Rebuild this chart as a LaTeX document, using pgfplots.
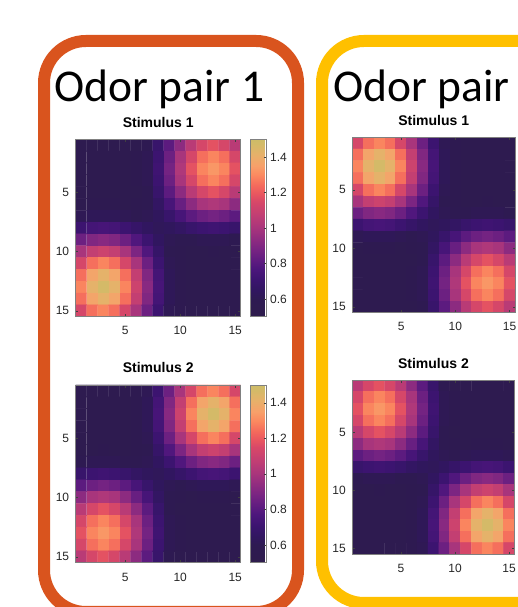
\documentclass[border=0pt]{standalone}
\usepackage{fontspec}
\setmainfont{Liberation Sans}
\newfontfamily\calibri{Carlito}
\usepackage{pgfplots}
\pgfplotsset{compat=1.18}
\usepackage{pgfplotstable}
\definecolor{boxorange}{RGB}{217,84,30}
\definecolor{boxyellow}{RGB}{255,192,0}
\pgfplotsset{
  /pgf/number format/assume math mode=true,
  colormap={mymagma}{
    rgb255(0pt)=(46,28,76);
    rgb255(10pt)=(46,26,82);
    rgb255(15pt)=(49,22,96);
    rgb255(21pt)=(60,20,112);
    rgb255(27pt)=(76,22,124);
    rgb255(32pt)=(96,28,128);
    rgb255(38pt)=(120,36,130);
    rgb255(44pt)=(144,44,128);
    rgb255(50pt)=(168,53,124);
    rgb255(57pt)=(192,62,116);
    rgb255(65pt)=(216,72,104);
    rgb255(69pt)=(232,85,96);
    rgb255(74pt)=(244,106,92);
    rgb255(80pt)=(251,138,96);
    rgb255(85pt)=(248,160,106);
    rgb255(91pt)=(232,176,106);
    rgb255(97pt)=(212,186,104);
    rgb255(100pt)=(205,188,104)
  },
}
% Odor pair 1, stimulus 1 (rows top to bottom, 15 values per row)
\pgfplotstableread[row sep=\\]{
v\\
0.56\\0.56\\0.56\\0.56\\0.56\\0.57\\0.60\\0.69\\0.81\\0.93\\1.05\\1.14\\1.18\\1.14\\1.05\\
0.56\\0.56\\0.56\\0.56\\0.56\\0.58\\0.61\\0.71\\0.85\\1.00\\1.14\\1.25\\1.29\\1.25\\1.14\\
0.56\\0.56\\0.56\\0.56\\0.56\\0.58\\0.61\\0.72\\0.87\\1.02\\1.18\\1.29\\1.33\\1.29\\1.18\\
0.56\\0.56\\0.56\\0.56\\0.56\\0.58\\0.61\\0.71\\0.85\\1.00\\1.14\\1.25\\1.29\\1.25\\1.14\\
0.56\\0.56\\0.56\\0.56\\0.56\\0.57\\0.60\\0.69\\0.81\\0.93\\1.05\\1.14\\1.18\\1.14\\1.05\\
0.57\\0.58\\0.58\\0.58\\0.57\\0.58\\0.60\\0.66\\0.75\\0.84\\0.93\\1.00\\1.02\\1.00\\0.93\\
0.61\\0.62\\0.62\\0.62\\0.61\\0.60\\0.61\\0.64\\0.69\\0.75\\0.81\\0.85\\0.87\\0.85\\0.81\\
0.71\\0.74\\0.75\\0.74\\0.71\\0.68\\0.65\\0.63\\0.64\\0.66\\0.69\\0.71\\0.72\\0.71\\0.69\\
0.85\\0.90\\0.92\\0.90\\0.85\\0.78\\0.71\\0.65\\0.61\\0.60\\0.60\\0.61\\0.61\\0.61\\0.60\\
1.00\\1.08\\1.11\\1.08\\1.00\\0.89\\0.78\\0.68\\0.60\\0.58\\0.57\\0.57\\0.58\\0.57\\0.57\\
1.14\\1.25\\1.29\\1.25\\1.14\\1.00\\0.85\\0.71\\0.61\\0.58\\0.56\\0.56\\0.56\\0.56\\0.56\\
1.25\\1.37\\1.42\\1.37\\1.25\\1.08\\0.90\\0.74\\0.62\\0.58\\0.56\\0.56\\0.56\\0.56\\0.56\\
1.29\\1.42\\1.47\\1.42\\1.29\\1.11\\0.92\\0.75\\0.62\\0.58\\0.56\\0.56\\0.56\\0.56\\0.56\\
1.25\\1.37\\1.42\\1.37\\1.25\\1.08\\0.90\\0.74\\0.62\\0.58\\0.56\\0.56\\0.56\\0.56\\0.56\\
1.14\\1.25\\1.29\\1.25\\1.14\\1.00\\0.85\\0.71\\0.61\\0.58\\0.56\\0.56\\0.56\\0.56\\0.56\\
}\tabA
% Odor pair 1, stimulus 2
\pgfplotstableread[row sep=\\]{
v\\
0.56\\0.56\\0.56\\0.56\\0.56\\0.58\\0.61\\0.71\\0.85\\1.00\\1.14\\1.25\\1.29\\1.25\\1.14\\
0.56\\0.56\\0.56\\0.56\\0.56\\0.58\\0.62\\0.74\\0.90\\1.08\\1.25\\1.37\\1.42\\1.37\\1.25\\
0.56\\0.56\\0.56\\0.56\\0.56\\0.58\\0.62\\0.75\\0.92\\1.11\\1.29\\1.42\\1.47\\1.42\\1.29\\
0.56\\0.56\\0.56\\0.56\\0.56\\0.58\\0.62\\0.74\\0.90\\1.08\\1.25\\1.37\\1.42\\1.37\\1.25\\
0.56\\0.56\\0.56\\0.56\\0.56\\0.58\\0.61\\0.71\\0.85\\1.00\\1.14\\1.25\\1.29\\1.25\\1.14\\
0.57\\0.57\\0.58\\0.57\\0.57\\0.58\\0.60\\0.68\\0.78\\0.89\\1.00\\1.08\\1.11\\1.08\\1.00\\
0.60\\0.61\\0.61\\0.61\\0.60\\0.60\\0.61\\0.65\\0.71\\0.78\\0.85\\0.90\\0.92\\0.90\\0.85\\
0.69\\0.71\\0.72\\0.71\\0.69\\0.66\\0.64\\0.63\\0.65\\0.68\\0.71\\0.74\\0.75\\0.74\\0.71\\
0.81\\0.85\\0.87\\0.85\\0.81\\0.75\\0.69\\0.64\\0.61\\0.60\\0.61\\0.62\\0.62\\0.62\\0.61\\
0.93\\1.00\\1.02\\1.00\\0.93\\0.84\\0.75\\0.66\\0.60\\0.58\\0.57\\0.58\\0.58\\0.58\\0.57\\
1.05\\1.14\\1.18\\1.14\\1.05\\0.93\\0.81\\0.69\\0.60\\0.57\\0.56\\0.56\\0.56\\0.56\\0.56\\
1.14\\1.25\\1.29\\1.25\\1.14\\1.00\\0.85\\0.71\\0.61\\0.58\\0.56\\0.56\\0.56\\0.56\\0.56\\
1.18\\1.29\\1.33\\1.29\\1.18\\1.02\\0.87\\0.72\\0.61\\0.58\\0.56\\0.56\\0.56\\0.56\\0.56\\
1.14\\1.25\\1.29\\1.25\\1.14\\1.00\\0.85\\0.71\\0.61\\0.58\\0.56\\0.56\\0.56\\0.56\\0.56\\
1.05\\1.14\\1.18\\1.14\\1.05\\0.93\\0.81\\0.69\\0.60\\0.57\\0.56\\0.56\\0.56\\0.56\\0.56\\
}\tabB
% Odor pair 2, stimulus 1
\pgfplotstableread[row sep=\\]{
v\\
1.14\\1.25\\1.29\\1.25\\1.14\\1.00\\0.85\\0.71\\0.61\\0.58\\0.56\\0.56\\0.56\\0.56\\0.56\\
1.25\\1.37\\1.42\\1.37\\1.25\\1.08\\0.90\\0.74\\0.62\\0.58\\0.56\\0.56\\0.56\\0.56\\0.56\\
1.29\\1.42\\1.47\\1.42\\1.29\\1.11\\0.92\\0.75\\0.62\\0.58\\0.56\\0.56\\0.56\\0.56\\0.56\\
1.25\\1.37\\1.42\\1.37\\1.25\\1.08\\0.90\\0.74\\0.62\\0.58\\0.56\\0.56\\0.56\\0.56\\0.56\\
1.14\\1.25\\1.29\\1.25\\1.14\\1.00\\0.85\\0.71\\0.61\\0.58\\0.56\\0.56\\0.56\\0.56\\0.56\\
1.00\\1.08\\1.11\\1.08\\1.00\\0.89\\0.78\\0.68\\0.60\\0.58\\0.57\\0.57\\0.58\\0.57\\0.57\\
0.85\\0.90\\0.92\\0.90\\0.85\\0.78\\0.71\\0.65\\0.61\\0.60\\0.60\\0.61\\0.61\\0.61\\0.60\\
0.71\\0.74\\0.75\\0.74\\0.71\\0.68\\0.65\\0.63\\0.64\\0.66\\0.69\\0.71\\0.72\\0.71\\0.69\\
0.61\\0.62\\0.62\\0.62\\0.61\\0.60\\0.61\\0.64\\0.69\\0.75\\0.81\\0.85\\0.87\\0.85\\0.81\\
0.57\\0.58\\0.58\\0.58\\0.57\\0.58\\0.60\\0.66\\0.75\\0.84\\0.93\\1.00\\1.02\\1.00\\0.93\\
0.56\\0.56\\0.56\\0.56\\0.56\\0.57\\0.60\\0.69\\0.81\\0.93\\1.05\\1.14\\1.18\\1.14\\1.05\\
0.56\\0.56\\0.56\\0.56\\0.56\\0.58\\0.61\\0.71\\0.85\\1.00\\1.14\\1.25\\1.29\\1.25\\1.14\\
0.56\\0.56\\0.56\\0.56\\0.56\\0.58\\0.61\\0.72\\0.87\\1.02\\1.18\\1.29\\1.33\\1.29\\1.18\\
0.56\\0.56\\0.56\\0.56\\0.56\\0.58\\0.61\\0.71\\0.85\\1.00\\1.14\\1.25\\1.29\\1.25\\1.14\\
0.56\\0.56\\0.56\\0.56\\0.56\\0.57\\0.60\\0.69\\0.81\\0.93\\1.05\\1.14\\1.18\\1.14\\1.05\\
}\tabC
% Odor pair 2, stimulus 2
\pgfplotstableread[row sep=\\]{
v\\
1.05\\1.14\\1.18\\1.14\\1.05\\0.93\\0.81\\0.69\\0.60\\0.57\\0.56\\0.56\\0.56\\0.56\\0.56\\
1.14\\1.25\\1.29\\1.25\\1.14\\1.00\\0.85\\0.71\\0.61\\0.58\\0.56\\0.56\\0.56\\0.56\\0.56\\
1.18\\1.29\\1.33\\1.29\\1.18\\1.02\\0.87\\0.72\\0.61\\0.58\\0.56\\0.56\\0.56\\0.56\\0.56\\
1.14\\1.25\\1.29\\1.25\\1.14\\1.00\\0.85\\0.71\\0.61\\0.58\\0.56\\0.56\\0.56\\0.56\\0.56\\
1.05\\1.14\\1.18\\1.14\\1.05\\0.93\\0.81\\0.69\\0.60\\0.57\\0.56\\0.56\\0.56\\0.56\\0.56\\
0.93\\1.00\\1.02\\1.00\\0.93\\0.84\\0.75\\0.66\\0.60\\0.58\\0.57\\0.58\\0.58\\0.58\\0.57\\
0.81\\0.85\\0.87\\0.85\\0.81\\0.75\\0.69\\0.64\\0.61\\0.60\\0.61\\0.62\\0.62\\0.62\\0.61\\
0.69\\0.71\\0.72\\0.71\\0.69\\0.66\\0.64\\0.63\\0.65\\0.68\\0.71\\0.74\\0.75\\0.74\\0.71\\
0.60\\0.61\\0.61\\0.61\\0.60\\0.60\\0.61\\0.65\\0.71\\0.78\\0.85\\0.90\\0.92\\0.90\\0.85\\
0.57\\0.57\\0.58\\0.57\\0.57\\0.58\\0.60\\0.68\\0.78\\0.89\\1.00\\1.08\\1.11\\1.08\\1.00\\
0.56\\0.56\\0.56\\0.56\\0.56\\0.58\\0.61\\0.71\\0.85\\1.00\\1.14\\1.25\\1.29\\1.25\\1.14\\
0.56\\0.56\\0.56\\0.56\\0.56\\0.58\\0.62\\0.74\\0.90\\1.08\\1.25\\1.37\\1.42\\1.37\\1.25\\
0.56\\0.56\\0.56\\0.56\\0.56\\0.58\\0.62\\0.75\\0.92\\1.11\\1.29\\1.42\\1.47\\1.42\\1.29\\
0.56\\0.56\\0.56\\0.56\\0.56\\0.58\\0.62\\0.74\\0.90\\1.08\\1.25\\1.37\\1.42\\1.37\\1.25\\
0.56\\0.56\\0.56\\0.56\\0.56\\0.58\\0.61\\0.71\\0.85\\1.00\\1.14\\1.25\\1.29\\1.25\\1.14\\
}\tabD
\pgfplotsset{
  hm/.style={
    scale only axis,
    anchor=south west,
    y dir=reverse,
    xmin=0.5, xmax=15.5, ymin=0.5, ymax=15.5,
    xtick={5,10,15},
    ytick={5,10,15},
    tick align=inside,
    major tick length=2.5pt,
    tick style={color=black!75, line width=0.5pt},
    axis line style={color=black!50, line width=0.6pt},
    colormap name=mymagma,
    point meta min=0.5, point meta max=1.5,
    ticklabel style={font=\fontsize{12}{12}\selectfont, text=black!85},
    xticklabel style={anchor=base, inner sep=0pt, yshift=-18.3pt},
    yticklabel style={anchor=east, inner sep=0pt, xshift=-6.4pt},
    title style={at={(0.5,1)}, anchor=base, inner sep=0pt, yshift=6pt,
      font=\bfseries\fontsize{14}{14}\selectfont},
    axis on top,
  },
  cb/.style={
    colorbar,
    colorbar shift/.style={xshift=0pt},
    colorbar style={
      at={(parent axis.north east)}, anchor=north west, xshift=10pt,
      scale only axis, width=16pt, height=#1,
      y dir=normal,
      ytick={0.6,0.8,1,1.2,1.4},
      yticklabel pos=right, ytick pos=right,
      tick align=inside, major tick length=2.5pt,
      tick style={color=black!75, line width=0.5pt},
      axis line style={color=black!50, line width=0.6pt},
      yticklabel style={anchor=west, inner sep=0pt, xshift=3.3pt,
        font=\fontsize{12}{12}\selectfont, text=black!85},
    },
  },
  table/hmtab/.style={x index=0, y index=0,
    x expr={\coordindex-15*floor((\coordindex+0.5)/15)+1},
    y expr={floor((\coordindex+0.5)/15)+1}, meta index=0},
}
\begin{document}
\begin{tikzpicture}[x=1pt,y=1pt]
\useasboundingbox (0,0) rectangle (518,607);
\clip (0,0) rectangle (518,607);
\draw[boxorange, line width=12pt, rounded corners=42pt] (44,566) rectangle (298,-5);
\draw[boxyellow, line width=12pt, rounded corners=42pt] (322,566) rectangle (640,4);
\node[anchor=base west, inner sep=0pt] at (54.5,505.3) {\calibri\fontsize{45.5}{45.5}\selectfont Odor pair 1};
\node[anchor=base west, inner sep=0pt] at (333,505.3) {\calibri\fontsize{45.5}{45.5}\selectfont Odor pair};

\begin{axis}[hm, cb=177.4pt, at={(75.7pt,290.3pt)}, width=165pt, height=177.4pt, title={Stimulus 1}]
\addplot[matrix plot, mesh/cols=15, point meta=explicit, line width=0.4pt] table[hmtab] {\tabA};
\end{axis}

\begin{axis}[hm, cb=177.7pt, at={(75.7pt,44.3pt)}, width=165pt, height=177.7pt, title={Stimulus 2}]
\addplot[matrix plot, mesh/cols=15, point meta=explicit, line width=0.4pt] table[hmtab] {\tabB};
\end{axis}

\begin{axis}[hm, at={(352.3pt,294.3pt)}, width=162.7pt, height=175.4pt, title={Stimulus 1}]
\addplot[matrix plot, mesh/cols=15, point meta=explicit, line width=0.4pt] table[hmtab] {\tabC};
\end{axis}

\begin{axis}[hm, at={(352.3pt,52.7pt)}, width=162.2pt, height=174.3pt, title={Stimulus 2}]
\addplot[matrix plot, mesh/cols=15, point meta=explicit, line width=0.4pt] table[hmtab] {\tabD};
\end{axis}
\end{tikzpicture}
\end{document}
